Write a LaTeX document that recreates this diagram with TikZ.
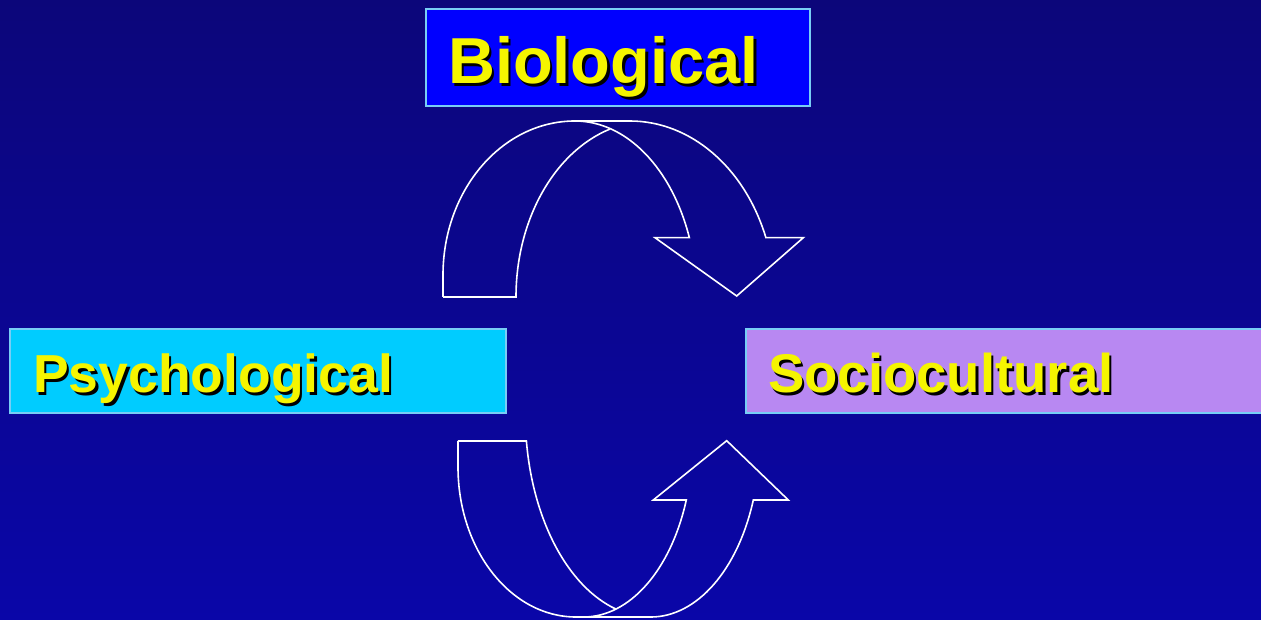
\documentclass[tikz,border=0pt]{standalone}
\usepackage{fontspec}
\setmainfont{Liberation Sans}
\definecolor{bgtop}{RGB}{12,6,122}
\definecolor{bgbot}{RGB}{10,6,168}
\definecolor{boxedge}{RGB}{120,205,245}
\definecolor{biofill}{RGB}{0,0,255}
\definecolor{psyfill}{RGB}{0,204,255}
\definecolor{socfill}{RGB}{184,136,242}
\definecolor{labelyellow}{RGB}{245,245,0}
\newcommand{\shadowtext}[1]{\rlap{\kern2.5pt\raisebox{-2.5pt}{\color{black}#1}}#1}
\tikzset{
  panel/.style={draw=boxedge, line width=1.5pt},
  labeltext/.style={anchor=base west, inner sep=0pt, text=labelyellow},
  curvearrow/.style={draw=white, line width=1.6pt, line join=miter}
}
\begin{document}
\begin{tikzpicture}[x=1pt,y=1pt]
\useasboundingbox (0,0) rectangle (1261,619);
\shade[top color=bgtop, bottom color=bgbot] (0,0) rectangle (1261,619);
% boxes
\path[panel, fill=biofill] (426,513) rectangle (810,610);
\path[panel, fill=psyfill] (10,206) rectangle (506,290);
\path[panel, fill=socfill] (746,206) rectangle (1266,290);
\node[labeltext, font=\fontsize{65}{70}\selectfont\bfseries] (bio) at (448,535) {\shadowtext{Biological}};
\node[labeltext, font=\fontsize{53.5}{60}\selectfont\bfseries] (psy) at (33,226) {\shadowtext{Psychological}};
\node[labeltext, font=\fontsize{54.5}{60}\selectfont\bfseries] (soc) at (768,226) {\shadowtext{Sociocultural}};
% top curved arrow
\draw[curvearrow] (443,322) -- (443,344)
  arc[start angle=180, end angle=90, x radius=132, y radius=154]
  arc[start angle=90, end angle=20.37, x radius=122, y radius=179]
  -- (655,381.3) -- (736.7,323) -- (803.3,381.3) -- (765.9,381.3)
  arc[start angle=20.37, end angle=90, x radius=145, y radius=179] -- (575,498);
\draw[curvearrow] (443,322) -- (516,322)
  arc[start angle=180, end angle=107.4, x radius=134, y radius=176];
% bottom curved arrow
\draw[curvearrow] (458,178) -- (458,152)
  arc[start angle=180, end angle=270, x radius=118, y radius=150]
  -- (583.6,2)
  arc[start angle=270, end angle=340.42, x radius=109, y radius=176]
  -- (653.3,119) -- (726.7,178.3) -- (788.3,119) -- (753.3,119)
  arc[start angle=340.42, end angle=270, x radius=109, y radius=176] -- (576,2);
\draw[curvearrow] (458,178) -- (526.4,178)
  arc[start angle=187.64, end angle=253.9, x radius=125.3, y radius=203];
\end{tikzpicture}
\end{document}
